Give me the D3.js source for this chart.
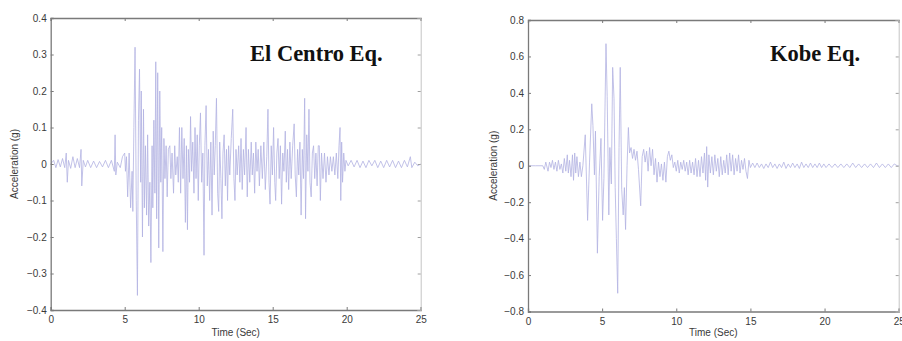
<!DOCTYPE html>
<html><head><meta charset="utf-8">
<script src="https://cdn.jsdelivr.net/npm/d3@7"></script>
<style>body{margin:0;background:#fff}svg{display:block}</style>
</head><body>
<svg id="chart" width="902" height="341"></svg>
<script>
// El Centro record: [time (s), acceleration (g)]
const elCentroRecord = [[0,0],[0.2,0.01],[0.35,-0.01],[0.5,0.012],[0.65,-0.008],[0.8,0.015],[0.95,-0.01],[1.05,0.03],[1.12,-0.05],[1.2,0.01],[1.35,-0.012],[1.5,0.02],[1.65,-0.01],[1.8,0.015],[1.95,-0.01],[2.05,0.04],[2.1,-0.06],[2.2,0.01],[2.35,-0.008],[2.5,0.01],[2.7,-0.01],[2.9,0.008],[3.1,-0.01],[3.3,0.007],[3.5,-0.008],[3.7,0.01],[3.9,-0.01],[4.1,0.01],[4.3,-0.02],[4.35,0.08],[4.4,-0.03],[4.5,0.005],[4.7,-0.01],[4.85,0.02],[5.0,0.03],[5.05,-0.02],[5.12,0.02],
[5.2,-0.09],[5.3,0.03],[5.4,-0.12],[5.5,-0.02],[5.55,-0.13],[5.62,0.1],[5.7,0.32],[5.78,-0.1],[5.86,-0.36],[5.93,0.12],[6.0,0.26],[6.08,-0.05],[6.12,0.2],[6.2,-0.2],[6.27,0.15],[6.33,-0.12],[6.4,0.05],[6.48,-0.14],[6.55,0.08],[6.62,-0.17],[6.7,-0.05],[6.77,-0.27],[6.85,0.05],[6.9,-0.12],[6.97,0.12],[7.04,-0.08],[7.1,0.28],[7.16,-0.15],[7.23,0.25],[7.3,-0.23],[7.37,0.2],[7.44,-0.05],[7.5,0.1],[7.58,-0.24],[7.65,0.07],[7.72,-0.04],[7.8,0.05],[7.87,-0.09],[7.95,0.04],[8.05,0.05],[8.12,-0.04],[8.2,0.03],[8.3,-0.08],[8.38,0.05],[8.45,-0.03],[8.55,0.02],[8.62,-0.05],[8.7,0.1],[8.78,-0.08],[8.86,0.1],[8.94,-0.04],[9.02,0.07],[9.1,-0.16],[9.17,0.05],[9.24,-0.18],[9.3,0.04],[9.38,-0.05],[9.45,0.13],[9.52,-0.02],[9.6,0.06],[9.68,-0.08],[9.75,0.1],[9.82,-0.04],[9.9,0.08],[9.97,-0.1],[10.04,0.05],[10.12,0.14],[10.2,-0.05],[10.28,0.03],[10.36,-0.25],[10.42,0.05],[10.5,0.16],[10.58,-0.06],[10.66,0.04],[10.74,-0.1],[10.82,0.06],[10.9,-0.14],[10.98,0.09],[11.05,-0.03],[11.12,0.05],[11.2,0.18],[11.28,-0.08],[11.35,-0.13],[11.42,0.06],[11.5,-0.04],[11.57,-0.15],[11.64,0.03],[11.72,0.08],[11.8,-0.06],[11.88,0.04],[11.95,-0.1],[12.02,0.05],[12.1,-0.03],[12.2,0.07],[12.3,0.15],[12.38,-0.04],[12.45,-0.1],[12.52,0.04],[12.6,-0.03],[12.7,0.05],[12.78,-0.05],[12.86,0.07],[12.94,-0.07],[13.02,0.04],[13.1,-0.03],[13.2,0.1],[13.28,-0.09],[13.36,0.04],[13.45,-0.05],[13.55,0.06],[13.62,-0.03],[13.7,0.03],[13.78,-0.08],[13.86,0.06],[13.94,-0.02],[14.02,0.04],[14.1,-0.06],[14.2,0.05],[14.3,-0.04],[14.4,0.06],[14.5,-0.07],[14.6,0.02],[14.68,0.15],[14.75,-0.05],[14.82,-0.11],[14.9,0.05],[14.98,-0.03],[15.06,0.1],[15.14,-0.05],[15.2,-0.1],[15.28,0.03],[15.36,0.07],[15.44,-0.04],[15.52,0.05],[15.6,-0.11],[15.68,0.03],[15.76,-0.02],[15.85,0.09],[15.92,-0.05],[16.0,0.04],[16.08,-0.07],[16.16,0.06],[16.25,-0.04],[16.35,0.05],[16.45,0.11],[16.52,-0.03],[16.6,-0.09],[16.68,0.04],[16.76,-0.03],[16.84,0.06],[16.92,-0.14],[17.0,0.04],[17.08,-0.04],[17.16,0.18],[17.22,-0.15],[17.3,0.08],[17.38,-0.02],[17.45,0.15],[17.52,-0.05],[17.6,-0.09],[17.68,0.03],[17.76,0.05],[17.84,-0.04],[17.92,0.03],[18.0,-0.06],[18.08,0.05],[18.15,0.05],[18.22,-0.1],[18.3,0.03],[18.4,-0.04],[18.5,0.03],[18.6,-0.05],[18.7,0.02],[18.8,-0.03],[18.9,0.02],[19.0,-0.02],[19.1,0.02],[19.2,-0.03],[19.3,0.03],[19.4,-0.04],[19.48,0.05],[19.55,0.1],[19.6,-0.1],[19.66,0.06],[19.72,-0.05],[19.8,0.03],[19.88,-0.02],[19.95,0.01],
[20.1,-0.005],[20.3,0.01],[20.5,-0.008],[20.7,0.01],[20.9,-0.01],[21.1,0.008],[21.3,-0.01],[21.5,0.01],[21.7,-0.005],[21.9,0.01],[22.1,-0.01],[22.3,0.008],[22.5,-0.01],[22.7,0.01],[22.9,-0.008],[23.1,0.01],[23.3,-0.01],[23.5,0.008],[23.7,-0.01],[23.9,0.01],[24.1,-0.008],[24.3,0.02],[24.4,-0.01],[24.6,0.005],[24.8,-0.005],[25,0]];

// Kobe record: [time (s), acceleration (g)]
const kobeRecord = [[0,0],[0.5,0],[1.0,0.0],[1.1,-0.02],[1.2,0.02],[1.35,-0.03],[1.45,0.02],[1.55,-0.01],[1.65,0.03],[1.75,-0.02],[1.85,0.02],[1.95,-0.03],[2.05,0.03],[2.15,-0.02],[2.25,0.01],[2.35,-0.04],[2.45,0.04],[2.55,-0.03],[2.65,0.06],[2.72,-0.04],[2.8,0.03],[2.9,-0.06],[3.0,0.06],[3.07,-0.08],[3.15,0.07],[3.22,-0.04],[3.3,0.05],[3.4,-0.06],[3.5,0.02],[3.6,-0.06],[3.7,0.0],[3.86,0.17],[4.02,-0.3],[4.15,0.02],[4.3,0.34],[4.38,0.22],[4.48,-0.05],[4.55,0.19],[4.68,-0.48],[4.8,-0.06],[4.92,0.15],[5.03,-0.3],[5.12,-0.07],
[5.26,0.67],[5.34,0.38],[5.45,-0.27],[5.52,0.1],[5.62,-0.1],[5.71,0.54],[5.8,0.37],[5.88,-0.12],[5.96,-0.4],[6.05,-0.7],[6.14,0.1],[6.22,0.54],[6.32,-0.13],[6.42,-0.27],[6.5,-0.12],[6.58,-0.35],[6.68,0.0],[6.77,0.21],[6.85,0.07],[6.95,0.1],[7.05,0.04],[7.15,0.09],[7.25,0.03],[7.35,0.08],[7.45,-0.02],[7.6,-0.22],[7.7,0.05],[7.8,0.09],[7.9,0.02],[8.0,0.08],[8.1,-0.03],[8.2,0.1],[8.3,0.0],[8.4,0.09],[8.5,-0.05],[8.6,0.04],[8.7,-0.09],[8.8,0.02],[8.9,-0.06],[9.0,0.01],[9.1,-0.08],[9.2,0.02],[9.3,-0.09],[9.4,0.05],[9.5,0.08],[9.6,0.03],[9.7,0.06],[9.8,-0.01],[9.9,0.02],[10.0,-0.03],[10.1,0.03],[10.2,-0.04],[10.3,0.02],[10.4,-0.02],[10.5,0.03],[10.6,-0.03],[10.7,0.02],[10.8,-0.05],[10.9,0.03],[11.0,-0.04],[11.1,0.02],[11.2,-0.05],[11.3,0.04],[11.4,-0.06],[11.5,0.03],[11.6,-0.06],[11.7,0.05],[11.8,-0.04],[11.9,0.07],[11.98,-0.08],[12.05,0.105],[12.12,-0.117],[12.2,0.06],[12.3,-0.04],[12.4,0.05],[12.5,-0.05],[12.6,0.06],[12.7,-0.03],[12.8,0.04],[12.9,-0.06],[13.0,0.05],[13.1,-0.05],[13.2,0.03],[13.3,-0.04],[13.4,0.06],[13.5,-0.05],[13.6,0.07],[13.7,-0.03],[13.8,0.06],[13.9,-0.05],[14.0,0.04],[14.1,-0.03],[14.2,0.06],[14.3,-0.04],[14.4,0.03],[14.5,-0.02],[14.6,0.04],[14.7,-0.03],[14.8,-0.07],[14.9,0.03],[15.0,-0.01],[15.15,0.015],[15.3,-0.01],[15.45,0.015],[15.6,-0.01],[15.75,0.01],[15.9,-0.015],[16.05,0.01],[16.2,-0.01],[16.35,0.02],[16.5,-0.01],[16.65,0.01],[16.8,-0.015],[16.95,0.01],[17.1,-0.01],[17.25,0.02],[17.4,-0.015],[17.55,0.01],[17.7,-0.01],[17.85,0.015],[18.0,-0.01],[18.15,0.01],[18.3,-0.015],[18.45,0.02],[18.6,-0.01],[18.75,0.01],[18.9,-0.01],[19.05,0.015],[19.2,-0.01],[19.35,0.01],[19.5,-0.01],[19.65,0.015],[19.8,-0.01],[19.95,0.01],[20.1,-0.01],[20.3,0.01],[20.5,-0.01],[20.7,0.01],[20.9,-0.01],[21.1,0.01],[21.3,-0.01],[21.5,0.01],[21.7,-0.01],[21.9,0.015],[22.1,-0.01],[22.3,0.01],[22.5,-0.01],[22.7,0.01],[22.9,-0.01],[23.1,0.01],[23.3,-0.01],[23.5,0.015],[23.7,-0.01],[23.9,0.01],[24.1,-0.01],[24.3,0.01],[24.5,-0.01],[24.7,0.01],[24.9,0],[25,0]];

const timeTicks = [0, 5, 10, 15, 20, 25];
const elCentroTicks = [-0.4, -0.3, -0.2, -0.1, 0, 0.1, 0.2, 0.3, 0.4];
const kobeTicks = [-0.8, -0.6, -0.4, -0.2, 0, 0.2, 0.4, 0.6, 0.8];

const panels = [
  {title: "El Centro Eq.", data: elCentroRecord, yDomain: [-0.4, 0.4], yTicks: elCentroTicks,
   x0: 50.7, x1: 420.7, y0: 18, y1: 310, titleX: 250, ylabX: 15},
  {title: "Kobe Eq.", data: kobeRecord, yDomain: [-0.8, 0.8], yTicks: kobeTicks,
   x0: 528, x1: 898.7, y0: 20, y1: 311.5, titleX: 770, ylabX: 494}
];

const svg = d3.select("#chart");
const fmt = d => d === 0 ? "0" : d3.format(".1f")(d);

panels.forEach(p => {
  const x = d3.scaleLinear().domain([0, 25]).range([p.x0, p.x1]);
  const y = d3.scaleLinear().domain(p.yDomain).range([p.y1, p.y0]);
  const g = svg.append("g");

  // signal
  g.append("path").datum(p.data)
    .attr("fill", "none").attr("stroke", "#b2b2e2").attr("stroke-width", 0.8)
    .attr("stroke-linejoin", "round")
    .attr("d", d3.line().x(d => x(d[0])).y(d => y(d[1])));

  const axCol = "#7a7a7a";
  const bx = g.append("g").attr("transform", `translate(0,${p.y1})`)
    .call(d3.axisBottom(x).tickValues(timeTicks).tickSize(-3).tickPadding(6).tickFormat(d3.format("d")));
  const ly = g.append("g").attr("transform", `translate(${p.x0},0)`)
    .call(d3.axisLeft(y).tickValues(p.yTicks).tickSize(-3).tickPadding(4).tickFormat(fmt));
  const tx = g.append("g").attr("transform", `translate(0,${p.y0})`)
    .call(d3.axisTop(x).tickValues(timeTicks).tickSize(-3).tickFormat(""));
  const ry = g.append("g").attr("transform", `translate(${p.x1},0)`)
    .call(d3.axisRight(y).tickValues(p.yTicks).tickSize(-3).tickFormat(""));

  [bx, ly, tx].forEach(a => {
    a.select(".domain").attr("stroke", axCol).attr("stroke-width", 1.3);
    a.selectAll(".tick line").attr("stroke", axCol);
  });
  ry.select(".domain").attr("stroke", "#c4c4c4").attr("stroke-width", 1);
  ry.selectAll(".tick line").attr("stroke", "#a0a0a0");
  [bx, ly].forEach(a => a.selectAll("text")
    .attr("font-family", "'Liberation Sans', Arial, sans-serif").attr("font-size", 10).attr("fill", "#3a3a3a"));

  g.append("text").attr("x", (p.x0 + p.x1) / 2).attr("y", 336)
    .attr("text-anchor", "middle").attr("font-family", "'Liberation Sans', Arial, sans-serif")
    .attr("font-size", 10).attr("fill", "#3a3a3a").text("Time (Sec)");
  g.append("text").attr("transform", `translate(${p.ylabX},${y(0)}) rotate(-90)`)
    .attr("text-anchor", "middle").attr("dominant-baseline", "middle")
    .attr("font-family", "'Liberation Sans', Arial, sans-serif")
    .attr("font-size", 10).attr("fill", "#3a3a3a").text("Acceleration (g)");

  g.append("text").attr("x", p.titleX).attr("y", 61)
    .attr("font-family", "'Liberation Serif', 'Times New Roman', serif")
    .attr("font-weight", "bold").attr("font-size", 22.5).attr("fill", "#111").text(p.title);
});
</script>
</body></html>
